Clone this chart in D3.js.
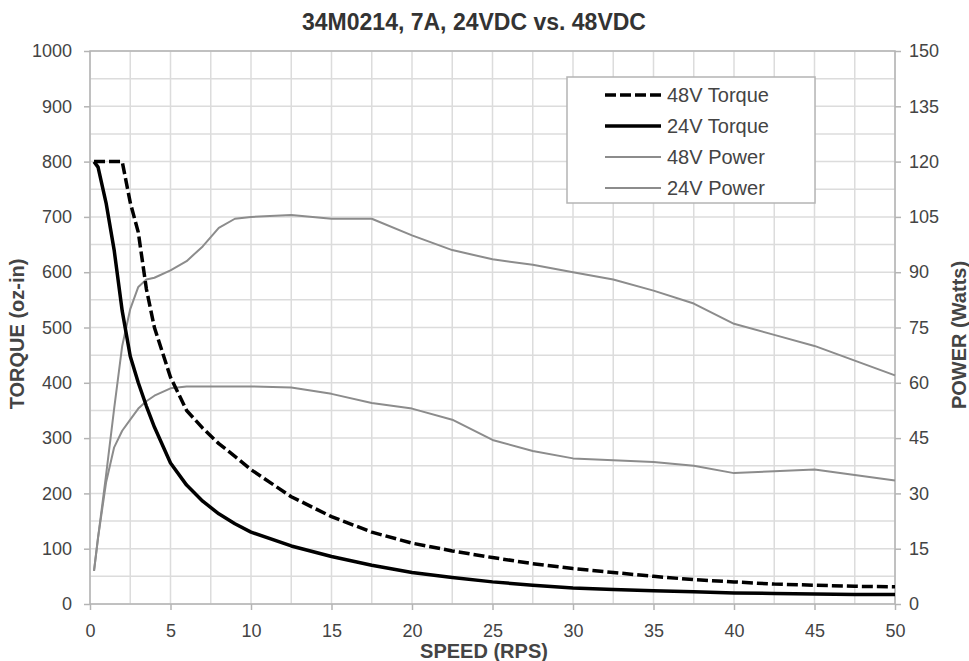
<!DOCTYPE html>
<html>
<head>
<meta charset="utf-8">
<script src="https://cdn.jsdelivr.net/npm/d3@7"></script>
<style>
    body { margin: 0; background: #fff; }
    text { font-family: "Liberation Sans", Arial, sans-serif; }
</style>
</head>
<body>
<svg id="chart" width="969" height="661"></svg>
<script>
// Speed samples (RPS) shared by every series.
const speedRps = [0.25, 0.5, 1, 1.5, 2, 2.5, 3, 3.5, 4, 5, 6, 7, 8, 9, 10, 12.5, 15, 17.5, 20,
    22.5, 25, 27.5, 30, 32.5, 35, 37.5, 40, 42.5, 45, 47.5, 50];

// Torque (oz-in), left axis.
const torque48V = [800, 800, 800, 800, 800, 726, 672, 570, 500, 410, 350, 318, 290, 267, 243,
    194, 158, 130, 110, 96, 84, 73, 64, 57, 50, 44, 40, 36, 34, 32, 31];
const torque24V = [800, 790, 725, 640, 530, 448, 400, 358, 320, 255, 215, 186, 163, 145, 130,
    105, 86, 70, 57, 48, 40, 34, 29, 26, 24, 22, 20, 19, 18, 17, 17];

// Power (Watts), right axis.
const power48V = [9, 18, 35, 53, 70, 80, 86, 88, 88.5, 90.5, 93, 97, 102, 104.5, 105,
    105.5, 104.5, 104.5, 100, 96, 93.5, 92, 90, 88, 85, 81.5, 76, 73, 70, 66, 62];
const power24V = [9, 18, 33, 42.5, 47, 50, 53, 55, 56.5, 58.5, 59, 59, 59, 59, 59,
    58.7, 57, 54.5, 53, 50, 44.5, 41.5, 39.5, 39, 38.5, 37.5, 35.5, 36, 36.5, 35, 33.5];

// Tick labels.
const speedTicks = [0, 5, 10, 15, 20, 25, 30, 35, 40, 45, 50];
const torqueTicks = [0, 100, 200, 300, 400, 500, 600, 700, 800, 900, 1000];
const powerTicks = [0, 15, 30, 45, 60, 75, 90, 105, 120, 135, 150];

const legendNames = ["48V Torque", "24V Torque", "48V Power", "24V Power"];

function drawChart(svgId) {
    let svg = d3.select(svgId);

    let plot = { left: 90, right: 895, top: 51, bottom: 604 };

    let x = d3.scaleLinear().domain([0, 50]).range([plot.left, plot.right]);
    let yTorque = d3.scaleLinear().domain([0, 1000]).range([plot.bottom, plot.top]);
    let yPower = d3.scaleLinear().domain([0, 150]).range([plot.bottom, plot.top]);

    // Grid.
    let grid = svg.append("g").attr("class", "grid");
    grid.selectAll(".vgrid")
        .data(d3.range(0, 50.01, 2.5))
        .join("line")
        .attr("x1", d => x(d)).attr("x2", d => x(d))
        .attr("y1", plot.top).attr("y2", plot.bottom)
        .attr("stroke", "#dcdcdc")
        .attr("stroke-width", 1.5);
    grid.selectAll(".hgrid")
        .data(d3.range(0, 1000.1, 50))
        .join("line")
        .attr("x1", plot.left).attr("x2", plot.right)
        .attr("y1", d => yTorque(d)).attr("y2", d => yTorque(d))
        .attr("stroke", "#dcdcdc")
        .attr("stroke-width", 1.5);

    svg.append("rect")
        .attr("x", plot.left).attr("y", plot.top)
        .attr("width", plot.right - plot.left)
        .attr("height", plot.bottom - plot.top)
        .attr("fill", "none")
        .attr("stroke", "#b4b4b4")
        .attr("stroke-width", 1.5);

    // Axes.
    let styleAxis = g => {
        g.select(".domain").remove();
        g.selectAll(".tick line").attr("stroke", "#b4b4b4").attr("stroke-width", 1.5);
        g.selectAll(".tick text").attr("fill", "#444").style("font-size", "18px");
    };
    svg.append("g")
        .attr("transform", "translate(0," + plot.bottom + ")")
        .call(d3.axisBottom(x).tickValues(speedTicks).tickSize(6).tickPadding(14))
        .call(styleAxis);
    svg.append("g")
        .attr("transform", "translate(" + plot.left + ",0)")
        .call(d3.axisLeft(yTorque).tickValues(torqueTicks).tickFormat(d3.format("d"))
            .tickSize(6).tickPadding(12))
        .call(styleAxis);
    svg.append("g")
        .attr("transform", "translate(" + plot.right + ",0)")
        .call(d3.axisRight(yPower).tickValues(powerTicks).tickSize(6).tickPadding(8))
        .call(styleAxis);

    // Titles.
    svg.append("text")
        .attr("x", 474).attr("y", 30)
        .attr("text-anchor", "middle")
        .style("font-size", "23px").style("font-weight", "bold").attr("fill", "#333")
        .text("34M0214, 7A, 24VDC vs. 48VDC");
    svg.append("text")
        .attr("x", 484).attr("y", 658)
        .attr("text-anchor", "middle")
        .style("font-size", "20px").style("font-weight", "bold").attr("fill", "#444")
        .text("SPEED (RPS)");
    svg.append("text")
        .attr("transform", "translate(24,334) rotate(-90)")
        .attr("text-anchor", "middle")
        .style("font-size", "20px").style("font-weight", "bold").attr("fill", "#444")
        .text("TORQUE (oz-in)");
    svg.append("text")
        .attr("transform", "translate(966,335) rotate(-90)")
        .attr("text-anchor", "middle")
        .style("font-size", "20px").style("font-weight", "bold").attr("fill", "#444")
        .text("POWER (Watts)");

    // Series.
    let series = [
        { values: power48V, scale: yPower, stroke: "#8c8c8c", width: 2, dash: null },
        { values: power24V, scale: yPower, stroke: "#8c8c8c", width: 2, dash: null },
        { values: torque48V, scale: yTorque, stroke: "#000", width: 3.5, dash: "11,4" },
        { values: torque24V, scale: yTorque, stroke: "#000", width: 3.5, dash: null }
    ];
    series.forEach(s => {
        let line = d3.line()
            .x((d, i) => x(speedRps[i]))
            .y(d => s.scale(d));
        svg.append("path")
            .attr("d", line(s.values))
            .attr("fill", "none")
            .attr("stroke", s.stroke)
            .attr("stroke-width", s.width)
            .attr("stroke-linejoin", "round")
            .style("stroke-dasharray", s.dash);
    });

    // Legend.
    let legendStyles = [
        { stroke: "#000", width: 3.5, dash: "11,4" },
        { stroke: "#000", width: 3.5, dash: null },
        { stroke: "#8c8c8c", width: 2, dash: null },
        { stroke: "#8c8c8c", width: 2, dash: null }
    ];
    let legend = svg.append("g").attr("transform", "translate(567,77)");
    legend.append("rect")
        .attr("width", 248).attr("height", 126)
        .attr("fill", "#fff")
        .attr("stroke", "#b4b4b4")
        .attr("stroke-width", 1.5);
    legendNames.forEach((name, i) => {
        let yRow = 18 + i * 31;
        legend.append("line")
            .attr("x1", 38).attr("x2", 94)
            .attr("y1", yRow).attr("y2", yRow)
            .attr("stroke", legendStyles[i].stroke)
            .attr("stroke-width", legendStyles[i].width)
            .style("stroke-dasharray", legendStyles[i].dash);
        legend.append("text")
            .attr("x", 100).attr("y", yRow)
            .attr("dy", "0.35em")
            .style("font-size", "20px").attr("fill", "#444")
            .text(name);
    });
}

drawChart("#chart");
</script>
</body>
</html>
